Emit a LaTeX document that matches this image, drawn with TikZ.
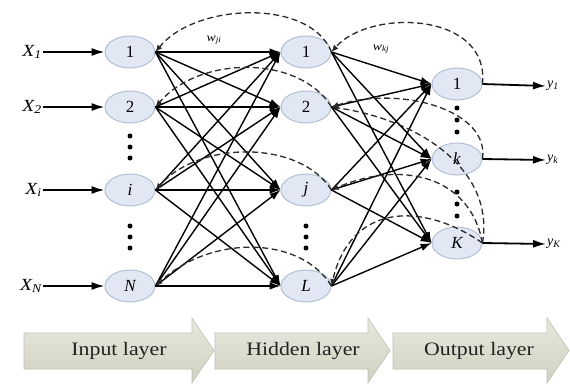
\documentclass[tikz,border=0pt]{standalone}
\usepackage{fontspec}
\setmainfont{Liberation Serif}
\usetikzlibrary{arrows.meta,shapes.geometric}
\definecolor{nodefill}{HTML}{E2E8F3}
\definecolor{nodeline}{HTML}{AEBBD0}
\definecolor{bandtop}{HTML}{E8E9DE}
\definecolor{bandbot}{HTML}{D0D1C1}
\definecolor{bandshadow}{HTML}{C0C1B2}
\definecolor{bandtext}{HTML}{222222}
\definecolor{backline}{HTML}{2A2A2A}
\newcommand\wide[1]{\scalebox{1.15}[1]{#1}}
\begin{document}
\begin{tikzpicture}[x=1pt,y=-1pt,
  neuron/.style={ellipse,draw=nodeline,line width=0.9pt,fill=nodefill,
    minimum width=50pt,minimum height=32pt,inner sep=0pt,
    font=\fontsize{17}{17}\selectfont},
  link/.style={line width=1.4pt,-{Latex[length=11pt,width=7.5pt]}},
  io/.style={line width=1.8pt,-{Latex[length=13pt,width=8pt]}},
  back/.style={draw=backline,line width=1.3pt,dash pattern=on 6pt off 3.5pt,
    -{Latex[length=7pt,width=6pt]}},
  vdot/.style={fill=black},
  lbl/.style={inner sep=1pt,font=\fontsize{17}{17}\selectfont},
  ylbl/.style={inner sep=1pt,font=\fontsize{14}{14}\selectfont},
  wlbl/.style={inner sep=0pt,font=\fontsize{12}{12}\selectfont},
  band/.style={top color=bandtop,bottom color=bandbot,draw=bandshadow,line width=0.6pt},
  bandlbl/.style={text=bandtext,font=\fontsize{19}{19}\selectfont}]

\useasboundingbox (0,0) rectangle (570,383);

% input layer
\node[neuron] (i1) at (130,52) {1};
\node[neuron] (i2) at (130,107) {2};
\node[neuron] (ii) at (130,190) {\itshape i};
\node[neuron] (iN) at (130,286) {\itshape N};
% hidden layer
\node[neuron] (h1) at (306,52) {1};
\node[neuron] (h2) at (306,107) {2};
\node[neuron] (hj) at (306,190) {\itshape j};
\node[neuron] (hL) at (306,286) {\itshape L};
% output layer
\node[neuron] (o1) at (457,84) {1};
\node[neuron] (ok) at (457,159) {\itshape k};
\node[neuron] (oK) at (457,243) {\itshape K};

% ellipsis dots
\foreach \y in {136,147,158} \fill[vdot] (130,\y) circle (2.5pt);
\foreach \y in {226,237,248} \fill[vdot] (130,\y) circle (2.5pt);
\foreach \y in {226,237,248} \fill[vdot] (306,\y) circle (2.5pt);
\foreach \y in {108,120,132} \fill[vdot] (457,\y) circle (2.5pt);
\foreach \y in {192,204,216} \fill[vdot] (457,\y) circle (2.5pt);

% inputs and outputs
\node[lbl,anchor=east] (x1) at (43,52) {\wide{\itshape X\textsubscript{1}}};
\node[lbl,anchor=east] (x2) at (43,107) {\wide{\itshape X\textsubscript{2}}};
\node[lbl,anchor=east] (xi) at (43,190) {\wide{\itshape X\textsubscript{i}}};
\node[lbl,anchor=east] (xN) at (43,286) {\wide{\itshape X\textsubscript{N}}};
\foreach \a/\b in {x1/i1,x2/i2,xi/ii,xN/iN} \draw[io] (\a.east) -- (\b.west);

\node[ylbl,anchor=west] (y1) at (546,86) {\itshape y\textsubscript{1}};
\node[ylbl,anchor=west] (yk) at (546,160) {\itshape y\textsubscript{k}};
\node[ylbl,anchor=west] (yK) at (546,244) {\itshape y\textsubscript{K}};
\foreach \a/\b in {o1/y1,ok/yk,oK/yK} \draw[io] (\a.east) -- (\b.west);

% forward connections
\foreach \a in {i1,i2,ii,iN}
  \foreach \b in {h1,h2,hj,hL}
    \draw[link] (\a.east) -- (\b.west);
\foreach \a in {h1,h2,hj,hL}
  \foreach \b in {o1,ok,oK}
    \draw[link] (\a.east) -- (\b.west);

% weight feedback, hidden to input
\draw[back] (h1.east) .. controls (310,-2) and (195,3) .. (i1.east);
\draw[back] (h2.east) .. controls (300,55) and (200,55) .. (i2.east);
\draw[back] (hj.east) .. controls (300,140) and (200,140) .. (ii.east);
\draw[back] (hL.east) .. controls (300,235) and (210,235) .. (iN.east);
% weight feedback, output to hidden
\draw[back] (o1.east) .. controls (490,12) and (370,8) .. (h1.east);
\draw[back] (ok.east) .. controls (490,110) and (400,85) .. (h2.east);
\draw[back] (oK.east) .. controls (495,170) and (420,120) .. (h2.east);
\draw[back] (oK.east) .. controls (470,175) and (400,160) .. (hj.east);
\draw[back] (oK.east) .. controls (420,200) and (350,205) .. (hL.east);

\node[wlbl] (wji) at (214,40) {\wide{\itshape w\textsubscript{ji}}};
\node[wlbl] (wkj) at (381,49) {\wide{\itshape w\textsubscript{kj}}};

% layer bands
\path[band] (24,333) -- (192,333) -- (192,318) -- (214,350.5) -- (192,383) -- (192,369) -- (24,369) -- cycle;
\path[band] (215,333) -- (368,333) -- (368,318) -- (390,350.5) -- (368,383) -- (368,369) -- (215,369) -- cycle;
\path[band] (393,333) -- (547,333) -- (547,318) -- (569,350.5) -- (547,383) -- (547,369) -- (393,369) -- cycle;
\node[bandlbl] (tin) at (119,351) {\wide{Input layer}};
\node[bandlbl] (thid) at (303,351) {\wide{Hidden layer}};
\node[bandlbl] (tout) at (479,351) {\wide{Output layer}};
\end{tikzpicture}
\end{document}
